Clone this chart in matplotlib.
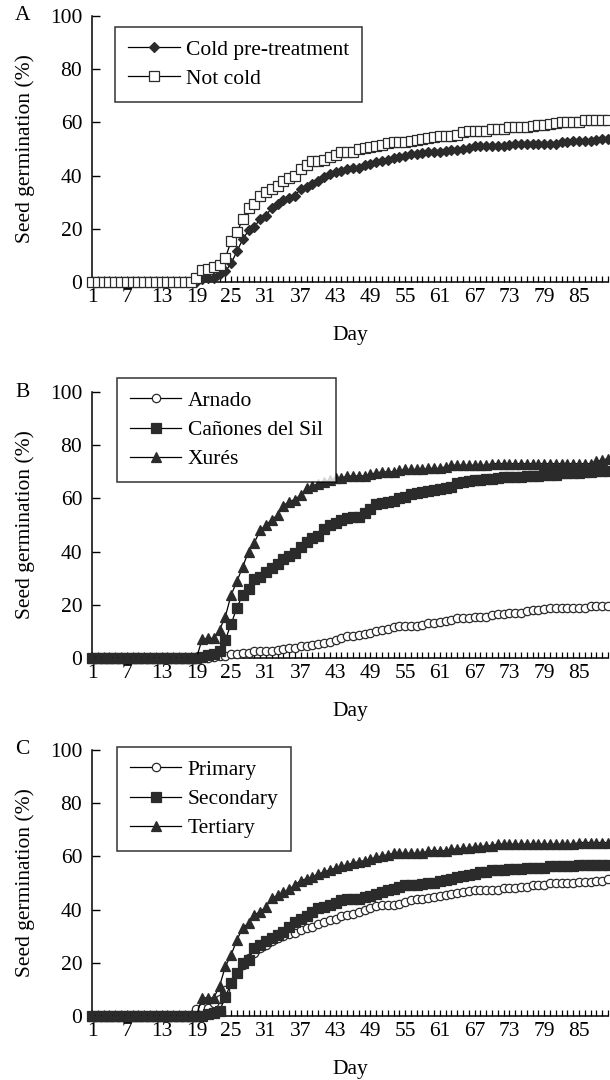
import matplotlib
matplotlib.use("Agg")
import matplotlib.pyplot as plt
from matplotlib.ticker import FixedLocator, MultipleLocator

plt.rcParams['font.family'] = ['Liberation Serif', 'DejaVu Serif']

# --- Data (cumulative germination, %) ---
days = list(range(1, 91))
tick_days = list(range(1, 86, 6))   # 1, 7, ..., 85

# Panel A
cold = [0] * 18 + [
    0, 1.2, 1.5, 1.5, 3.0, 4.0, 7.0, 11.6, 16.0, 19.4, 20.6, 23.8, 24.8, 28.0,
    29.4, 31.0, 31.5, 32.5, 35.0, 35.6, 37.0, 37.8, 39.4, 40.6, 41.5, 41.9,
    42.3, 42.8, 43.0, 44.0, 44.4, 45.0, 45.4, 45.9, 46.5, 46.9, 47.5, 48.1,
    48.1, 48.5, 48.8, 48.8, 49.0, 49.4, 49.8, 49.8, 50.0, 50.4, 51.0, 51.3,
    51.3, 51.3, 51.3, 51.3, 51.6, 51.9, 51.9, 52.0, 52.0, 52.0, 52.0, 52.0,
    52.0, 52.5, 52.5, 53.0, 53.0, 53.0, 53.0, 53.4, 53.8, 53.8]
not_cold = [0] * 18 + [
    1.5, 4.4, 5.0, 5.6, 6.3, 9.0, 15.4, 18.8, 23.5, 27.8, 29.4, 32.5, 34.0,
    35.0, 36.0, 38.0, 39.0, 40.0, 42.5, 43.8, 45.3, 45.3, 46.0, 46.9, 47.8,
    48.8, 48.8, 49.0, 50.0, 50.4, 50.8, 51.3, 51.6, 52.3, 52.5, 52.8, 52.8,
    53.1, 53.5, 53.8, 54.0, 54.4, 54.8, 55.0, 55.0, 55.3, 56.3, 56.8, 56.8,
    56.8, 56.8, 57.5, 57.5, 57.5, 58.4, 58.4, 58.4, 58.4, 58.8, 59.0, 59.0,
    59.4, 59.8, 60.0, 60.0, 60.0, 60.0, 60.9, 60.9, 61.0, 61.0, 61.0]

# Panel B
arnado = [0] * 18 + [
    0, 0, 0, 0.3, 0.6, 0.9, 1.5, 1.6, 1.9, 1.9, 2.5, 2.8, 2.8, 2.8, 2.9, 3.4,
    3.8, 3.8, 4.4, 4.6, 5.0, 5.4, 5.6, 6.0, 6.6, 7.5, 8.4, 8.4, 8.8, 9.1, 9.4,
    10.0, 10.6, 11.1, 11.6, 11.9, 11.9, 11.9, 12.1, 12.5, 13.1, 13.1, 13.4,
    13.8, 14.4, 15.0, 15.0, 15.0, 15.3, 15.3, 15.6, 16.3, 16.6, 16.6, 17.1,
    17.1, 17.1, 17.5, 17.9, 17.9, 18.4, 18.8, 18.8, 18.8, 18.8, 18.8, 18.8,
    18.8, 19.4, 19.4, 19.4, 19.4]
canones = [0] * 18 + [
    0, 0.5, 1.3, 1.6, 2.5, 6.9, 12.8, 19.0, 23.8, 25.9, 29.6, 30.4, 32.3,
    33.8, 35.4, 37.1, 38.4, 39.4, 41.9, 43.8, 45.0, 45.9, 48.5, 50.0, 50.9,
    51.9, 52.5, 52.9, 53.1, 54.6, 55.9, 57.9, 58.4, 58.8, 59.1, 60.0, 60.6,
    61.6, 62.1, 62.5, 62.9, 63.1, 63.5, 63.8, 64.4, 65.9, 66.3, 66.6, 67.1,
    67.1, 67.3, 67.3, 67.6, 68.0, 68.0, 68.0, 68.0, 68.6, 68.6, 68.6, 68.9,
    68.9, 68.9, 69.4, 69.4, 69.6, 69.6, 70.0, 70.0, 70.3, 70.3, 70.3]
xures = [0] * 18 + [
    0, 7.0, 7.4, 7.4, 10.6, 15.6, 23.8, 28.8, 34.4, 40.0, 43.4, 48.0, 50.0,
    52.0, 53.8, 57.3, 58.8, 59.6, 61.3, 63.8, 64.6, 65.6, 66.3, 66.9, 67.5,
    67.8, 68.3, 68.5, 68.5, 68.5, 69.1, 69.6, 70.0, 70.0, 70.0, 70.6, 70.9,
    70.9, 70.9, 70.9, 71.3, 71.3, 71.3, 71.9, 72.5, 72.5, 72.5, 72.5, 72.5,
    72.5, 72.5, 73.1, 73.1, 73.1, 73.1, 73.1, 73.1, 73.1, 73.1, 73.1, 73.1,
    73.1, 73.1, 73.1, 73.1, 73.1, 73.1, 73.1, 73.1, 74.0, 74.4, 75.0]

# Panel C
primary = [0] * 18 + [
    2.5, 3.1, 3.1, 5.0, 6.2, 9.9, 12.4, 16.1, 19.3, 21.7, 23.6, 25.5, 26.7,
    28.0, 29.2, 30.1, 30.7, 31.1, 32.3, 32.9, 33.5, 34.4, 35.4, 36.0, 36.6,
    37.5, 37.9, 38.5, 39.1, 39.8, 40.4, 41.2, 41.6, 41.6, 41.9, 42.2, 42.9,
    43.5, 43.9, 44.1, 44.3, 44.7, 45.1, 45.3, 46.0, 46.3, 46.6, 46.8, 47.2,
    47.2, 47.2, 47.2, 47.2, 48.1, 48.1, 48.1, 48.4, 48.4, 49.1, 49.1, 49.1,
    49.9, 49.9, 49.9, 49.9, 49.9, 50.3, 50.3, 50.3, 50.9, 50.9, 51.5]
secondary = [0] * 18 + [
    0, 0, 0.6, 1.2, 1.9, 7.1, 12.4, 16.1, 19.9, 21.1, 25.7, 26.7, 28.2, 29.2,
    30.4, 31.7, 33.5, 35.4, 36.6, 37.6, 38.9, 40.4, 41.0, 41.6, 42.6, 43.5,
    44.1, 44.1, 44.1, 44.7, 45.1, 46.0, 46.6, 47.2, 47.8, 48.4, 49.1, 49.1,
    49.1, 49.7, 50.1, 50.1, 50.6, 51.2, 51.6, 52.2, 52.8, 53.0, 53.4, 54.0,
    54.0, 54.7, 54.7, 54.7, 55.3, 55.3, 55.3, 55.7, 55.7, 55.7, 55.7, 56.3,
    56.3, 56.3, 56.3, 56.3, 56.8, 56.8, 56.8, 56.8, 56.8, 56.8]
tertiary = [0] * 18 + [
    0, 6.8, 6.8, 6.8, 11.2, 18.6, 23.0, 28.6, 33.2, 34.8, 38.1, 39.1, 41.0,
    44.3, 45.3, 46.6, 47.6, 49.3, 50.9, 51.6, 52.2, 53.4, 54.0, 55.0, 55.5,
    56.3, 56.8, 57.5, 58.0, 58.4, 59.0, 59.6, 60.2, 60.6, 61.1, 61.2, 61.2,
    61.2, 61.2, 61.2, 62.1, 62.1, 62.1, 62.1, 62.7, 62.7, 63.1, 63.1, 63.6,
    63.6, 64.0, 64.0, 64.6, 64.6, 64.6, 64.6, 64.6, 64.6, 64.6, 64.6, 64.6,
    64.6, 64.6, 64.6, 64.6, 64.6, 65.2, 65.2, 65.2, 65.2, 65.2, 65.2]

MK = '#2b2b2b'
diamond = dict(marker='D', ms=5.5, mfc=MK, mec=MK)
open_sq = dict(marker='s', ms=6.5, mfc='white', mec=MK)
open_ci = dict(marker='o', ms=6, mfc='white', mec=MK)
fill_sq = dict(marker='s', ms=7.5, mfc=MK, mec=MK)
fill_tr = dict(marker='^', ms=7.5, mfc=MK, mec=MK)

panels = [
    ('A', [cold, not_cold], ['Cold pre-treatment', 'Not cold'],
     [diamond, open_sq], 0.7389, (0.045, 0.96)),
    ('B', [arnado, canones, xures], ['Arnado', 'Cañones del Sil', 'Xurés'],
     [open_ci, fill_sq, fill_tr], 0.3907, (0.048, 1.053)),
    ('C', [primary, secondary, tertiary], ['Primary', 'Secondary', 'Tertiary'],
     [open_ci, fill_sq, fill_tr], 0.0593, (0.048, 1.011)),
]

fig = plt.figure(figsize=(6.1, 10.8), dpi=100)
FS = 15.5

for letter, series, labels, styles, bottom, anchor in panels:
    ax = fig.add_axes([0.1508, bottom, 0.846, 0.2463])
    for vals, lab, st in zip(series, labels, styles):
        ax.plot(days, vals, color='black', lw=0.9, mew=0.9, label=lab,
                clip_on=False, zorder=3, **st)
    ax.set_xlim(1, 90)
    ax.set_ylim(0, 100)
    ax.set_yticks([0, 20, 40, 60, 80, 100])
    ax.xaxis.set_major_locator(FixedLocator(tick_days))
    ax.xaxis.set_minor_locator(MultipleLocator(1))
    ax.set_xticklabels([str(d) for d in tick_days])
    for s in ['top', 'right']:
        ax.spines[s].set_visible(False)
    for s in ['left', 'bottom']:
        ax.spines[s].set_linewidth(1.1)
    ax.tick_params(axis='x', which='both', direction='in', length=4,
                   width=0.9, pad=4, labelsize=FS)
    ax.tick_params(axis='y', direction='in', length=6, width=1.0, pad=7,
                   labelsize=FS)
    ax.set_ylabel('Seed germination (%)', fontsize=FS)
    ax.yaxis.set_label_coords(-0.11, 0.5)
    ax.set_xlabel('Day', fontsize=FS)
    ax.xaxis.set_label_coords(0.5, -0.165)
    leg = ax.legend(loc='upper left', bbox_to_anchor=anchor, fontsize=FS,
                    frameon=True, fancybox=False, edgecolor='black',
                    borderaxespad=0, borderpad=0.6, labelspacing=0.42,
                    handlelength=2.4, handletextpad=0.3, numpoints=1)
    leg.get_frame().set_linewidth(1.1)
    ax.text(-0.135, 1.0, letter, transform=ax.transAxes, fontsize=FS,
            ha='center', va='center')

fig.savefig('out.png', dpi=100)
